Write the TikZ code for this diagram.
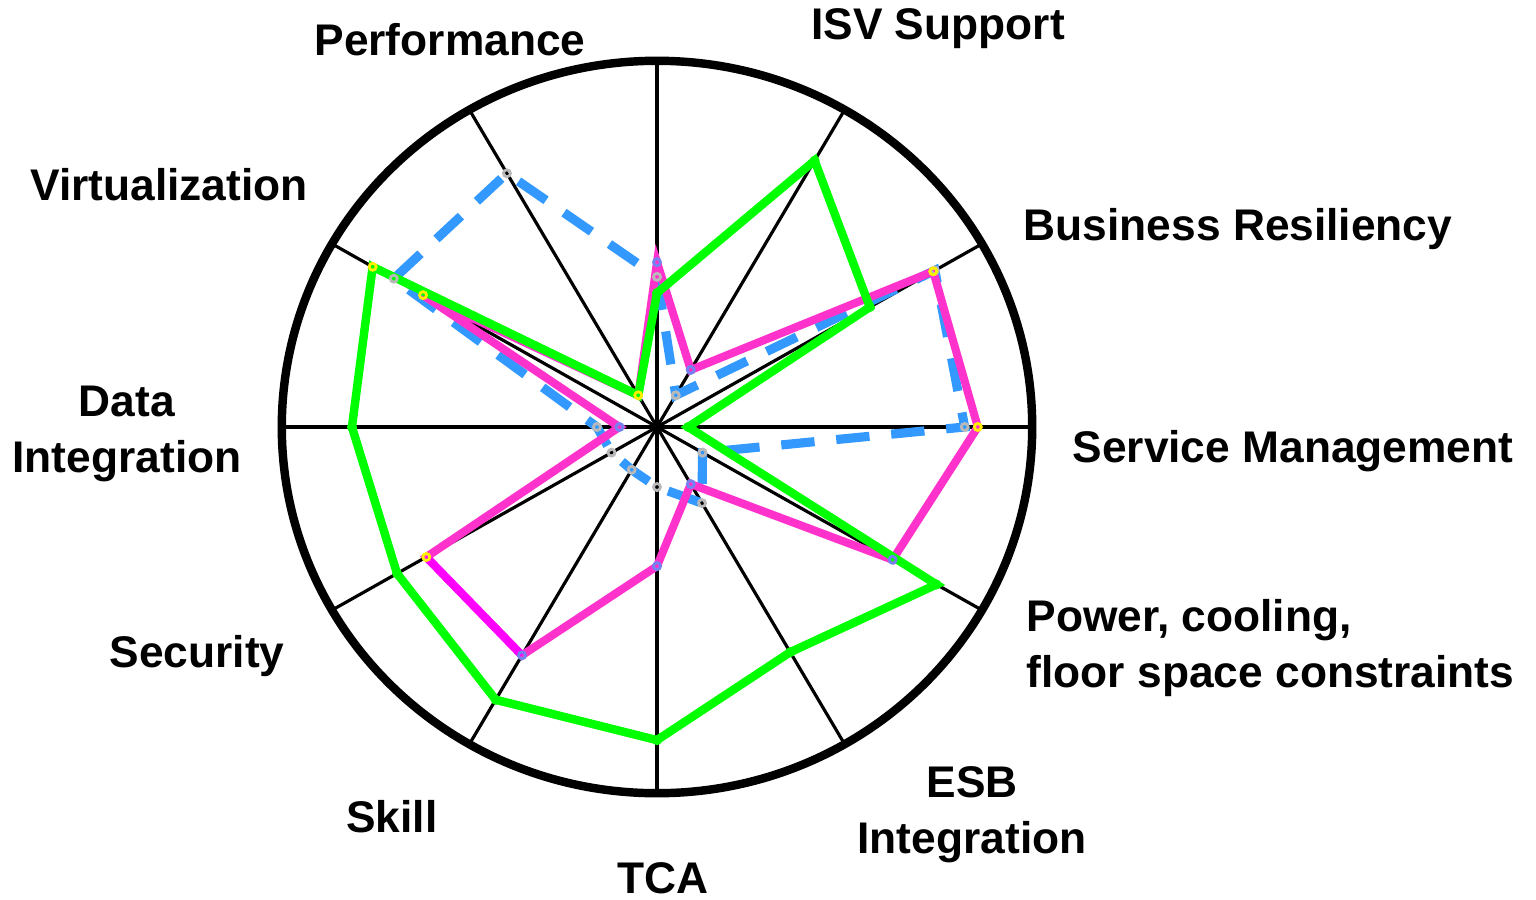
\documentclass[tikz,border=0pt]{standalone}
\usepackage{fontspec}
\setmainfont{Liberation Sans}
\definecolor{lineGreen}{RGB}{0,255,0}
\definecolor{linePink}{RGB}{255,51,204}
\definecolor{lineMagenta}{RGB}{255,0,255}
\definecolor{lineBlue}{RGB}{51,153,255}
\definecolor{ringGray}{RGB}{185,185,185}
\definecolor{ringViolet}{RGB}{115,130,240}
\definecolor{ringYellow}{RGB}{255,240,0}

\begin{document}
\begin{tikzpicture}[x=0.01cm,y=-0.01cm,
  axis label/.style={font=\fontsize{12.6}{15.9}\selectfont\bfseries,inner sep=0pt,anchor=base,align=center},
  rim/.style={line width=2.4pt},
  spoke/.style={line width=0.9pt},
  series green/.style={draw=lineGreen,line width=2.4pt},
  series pink/.style={draw=linePink,line width=2.3pt},
  series blue/.style={draw=lineBlue,line width=2.6pt,dash pattern=on 9.5pt off 6.2pt},
  ring/.style={draw=#1,line width=0.8pt}]

  \useasboundingbox (0,0) rectangle (1536,900);

  % axis labels
  \node[axis label] (perf) at (450,55) {Performance};
  \node[axis label] (isv) at (938,40) {ISV Support};
  \node[axis label] (virt) at (169,200) {Virtualization};
  \node[axis label] (busres) at (1238,240) {Business Resiliency};
  \node[axis label] (svcmgmt) at (1293,462) {Service Management};
  \node[axis label,anchor=base west,align=left] (power) at (1026,687) {Power, cooling,\\floor space constraints};
  \node[axis label] (dataint) at (127,472) {Data\\Integration};
  \node[axis label] (security) at (197,667) {Security};
  \node[axis label] (skill) at (392,832) {Skill};
  \node[axis label] (tca) at (663,893) {TCA};
  \node[axis label] (esb) at (972,853) {ESB\\Integration};

  \begin{scope}[shift={(657,427)},x=3.75cm,y=3.66cm]
    \coordinate (c) at (0,0);
    % spokes and rim
    \foreach \a in {0,30,...,330}
      \draw[spoke] (c) -- (\a:1);
    \draw[rim] (c) ellipse [x radius=3.75cm, y radius=3.66cm];

    % data points
    \foreach \a/\v [count=\i] in {90/0.41,60/0.1,30/0.855,0/0.82,-30/0.14,-60/0.24,
        -90/0.164,-120/0.135,-150/0.14,180/0.16,150/0.81,120/0.8}
      \coordinate (b\i) at (\a:\v);
    \foreach \a/\v [count=\i] in {90/0.45,60/0.18,30/0.85,0/0.855,-30/0.725,-60/0.18,
        -90/0.38,-120/0.72,-150/0.71,180/0.1,150/0.72,120/0.1}
      \coordinate (p\i) at (\a:\v);
    \foreach \a/\v [count=\i] in {90/0.366,60/0.84,30/0.655,0/0.083,-30/0.86,-60/0.71,
        -90/0.855,-120/0.86,-150/0.8,180/0.813,150/0.875,120/0.1}
      \coordinate (g\i) at (\a:\v);

    \draw[series blue] (b1) -- (b2) -- (b3) -- (b4) -- (b5) -- (b6) -- (b7)
      -- (b8) -- (b9) -- (b10) -- (b11) -- (b12) -- cycle;
    \draw[series pink] (p1) -- (p2) -- (p3) -- (p4) -- (p5) -- (p6) -- (p7)
      -- (p8) -- (p9) -- (p10) -- (p11) -- (p12) -- cycle;
    \draw[series pink,draw=lineMagenta] (p9) -- (p8);
    \draw[series green] (g1) -- (g2) -- (g3) -- (g4) -- (g5) -- (g6) -- (g7)
      -- (g8) -- (g9) -- (g10) -- (g11) -- (g12) -- cycle;

    % markers
    \foreach \i in {1,...,12}
      \draw[ring=ringGray] (b\i) circle [radius=0.035cm];
    \foreach \i/\c in {1/ringViolet,2/ringViolet,3/ringYellow,4/ringYellow,5/ringViolet,
        6/ringViolet,7/ringViolet,8/ringViolet,9/ringYellow,10/ringViolet,11/ringYellow}
      \draw[ring=\c] (p\i) circle [radius=0.035cm];
    \foreach \i/\c in {1/lineGreen,2/lineGreen,3/lineGreen,4/lineGreen,5/lineGreen,6/lineGreen,
        7/lineGreen,8/lineGreen,9/lineGreen,10/lineGreen,11/ringYellow,12/ringYellow}
      \draw[ring=\c] (g\i) circle [radius=0.035cm];
  \end{scope}
\end{tikzpicture}
\end{document}
